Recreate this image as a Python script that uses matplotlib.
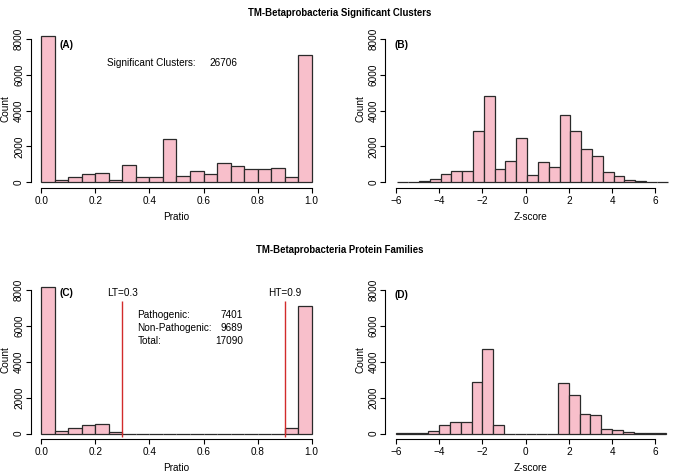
import matplotlib
matplotlib.use("Agg")
import matplotlib.pyplot as plt
import numpy as np

plt.rcParams['font.family'] = ['Liberation Sans', 'DejaVu Sans']

# ---------------- data ----------------
title_top = "TM-Betaprobacteria Significant Clusters"
title_bottom = "TM-Betaprobacteria Protein Families"

# Pratio histograms (bin width 0.05, starting at 0.0)
pratio_start = 0.0
pratio_width = 0.05
pratio_counts_A = [8150, 149, 316, 465, 502, 112, 949, 298, 298, 2400,
                   353, 651, 465, 1098, 930, 726, 726, 781, 290, 7100]
pratio_counts_C = [8150, 149, 316, 465, 502, 112, 0, 0, 0, 0,
                   0, 0, 0, 0, 0, 0, 0, 0, 290, 7100]

# Z-score histograms (bin width 0.5)
z_width = 0.5
z_start_B = -5.93
z_counts_B = [5, 15, 56, 167, 447, 614, 651, 2865, 4800, 726,
              1172, 2456, 391, 1153, 837, 3740, 2847, 1842, 1488, 558,
              335, 130, 56, 20, 5]
z_start_D = -6.0
z_counts_D = [5, 15, 37, 167, 465, 633, 651, 2847, 4688, 447,
              0, 0, 0, 0, 0, 2809, 2121, 1079, 1042, 279,
              223, 112, 37, 15, 5]

pratio_ticks = [0.0, 0.2, 0.4, 0.6, 0.8, 1.0]
pratio_ticklabels = ["0.0", "0.2", "0.4", "0.6", "0.8", "1.0"]
z_ticks = [-6, -4, -2, 0, 2, 4, 6]
z_ticklabels = ["\u22126", "\u22124", "\u22122", "0", "2", "4", "6"]
count_ticks = [0, 2000, 4000, 6000, 8000]
count_ticklabels = ["0", "2000", "4000", "6000", "8000"]

thresholds = [0.3, 0.9]
threshold_labels = ["LT=0.3", "HT=0.9"]

sig_clusters = "26706"
stats_names = ["Pathogenic:", "Non-Pathogenic:", "Total:"]
stats_values = ["7401", "9689", "17090"]

# ---------------- style ----------------
W, H = 679, 474
pink = "#F8BFCB"
edge = "#2a2a2a"
red = "#D22B2B"
fs = 7.2

fig = plt.figure(figsize=(W / 100, H / 100), dpi=100)

def rect(left, top, right, bottom):
    return [left / W, 1 - bottom / H, (right - left) / W, (bottom - top) / H]

axA = fig.add_axes(rect(30.5, 29.7, 322.5, 188.2))
axB = fig.add_axes(rect(385.0, 29.7, 677.0, 188.2))
axC = fig.add_axes(rect(30.5, 280.5, 322.5, 439.4))
axD = fig.add_axes(rect(385.0, 280.5, 677.0, 439.4))

def style(ax, xlim, xticks, xticklabels, xbounds, xlabel):
    ax.set_xlim(*xlim)
    ax.set_ylim(-327, 8513)
    for s in ['top', 'right']:
        ax.spines[s].set_visible(False)
    ax.spines['left'].set_bounds(0, 8000)
    ax.spines['bottom'].set_bounds(*xbounds)
    for s in ['left', 'bottom']:
        ax.spines[s].set_linewidth(0.8)
        ax.spines[s].set_color('black')
    ax.set_xticks(xticks)
    ax.set_xticklabels(xticklabels, fontsize=fs)
    ax.set_yticks(count_ticks)
    ax.set_yticklabels(count_ticklabels, fontsize=fs, rotation=90, va='center')
    ax.tick_params(axis='both', direction='out', length=3.6, width=0.8, colors='black')
    ax.tick_params(axis='x', pad=2.0)
    ax.tick_params(axis='y', pad=1.0)
    ax.set_xlabel(xlabel, fontsize=fs, labelpad=4.0)
    ax.set_ylabel("Count", fontsize=fs, labelpad=2.5)

def hist(ax, start, width, counts):
    lefts = [start + i * width for i in range(len(counts))]
    ax.bar(lefts, counts, width=width, align='edge', color=pink,
           edgecolor=edge, linewidth=0.9)

# Panel A
hist(axA, pratio_start, pratio_width, pratio_counts_A)
style(axA, (-0.04, 1.04), pratio_ticks, pratio_ticklabels, (0, 1), "Pratio")
axA.text(0.068, 7660, "(A)", fontsize=fs, fontweight='bold', ha='left', va='center')
axA.text(0.242, 6674, "Significant Clusters:", fontsize=fs, ha='left', va='center')
axA.text(0.725, 6674, sig_clusters, fontsize=fs, ha='right', va='center')

# Panel B
hist(axB, z_start_B, z_width, z_counts_B)
style(axB, (-6.5, 7.0), z_ticks, z_ticklabels, (-6, 6), "Z-score")
axB.text(-6.05, 7660, "(B)", fontsize=fs, fontweight='bold', ha='left', va='center')

# Panel C
hist(axC, pratio_start, pratio_width, pratio_counts_C)
style(axC, (-0.04, 1.04), pratio_ticks, pratio_ticklabels, (0, 1), "Pratio")
axC.text(0.068, 7795, "(C)", fontsize=fs, fontweight='bold', ha='left', va='center')
for t, lab in zip(thresholds, threshold_labels):
    axC.plot([t, t], [-180, 7390], color=red, lw=1.0, solid_capstyle='butt')
    axC.text(t, 7795, lab, fontsize=fs, ha='center', va='center')
for i, (n, v) in enumerate(zip(stats_names, stats_values)):
    y = 6574 - i * 720
    axC.text(0.355, y, n, fontsize=fs, ha='left', va='center')
    axC.text(0.747, y, v, fontsize=fs, ha='right', va='center')

# Panel D
hist(axD, z_start_D, z_width, z_counts_D)
style(axD, (-6.5, 7.0), z_ticks, z_ticklabels, (-6, 6), "Z-score")
axD.text(-6.05, 7720, "(D)", fontsize=fs, fontweight='bold', ha='left', va='center')

# Titles
fig.text(0.5, 1 - 13 / H, title_top, fontsize=6.9, fontweight='bold', ha='center', va='center')
fig.text(0.5, 1 - 250 / H, title_bottom, fontsize=6.9, fontweight='bold', ha='center', va='center')

fig.savefig("out.png", dpi=100)
